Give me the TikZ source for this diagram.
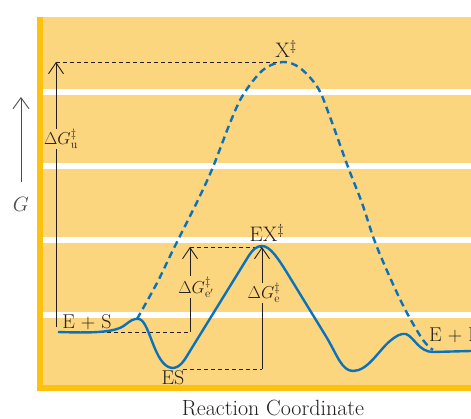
\documentclass[tikz,border=0pt]{standalone}
\usetikzlibrary{arrows.meta}
\definecolor{panel}{HTML}{FCD67F}
\definecolor{bar}{HTML}{FEC20E}
\definecolor{curve}{HTML}{0A72BA}
\definecolor{ink}{HTML}{231F20}
\definecolor{axisgray}{HTML}{4D4D4D}
\begin{document}
\begin{tikzpicture}[x=1pt,y=-1pt,
  barrow/.style={ink,line width=0.9pt,-{Straight Barb[length=11pt,width=15pt,line width=0.9pt]}},
  guide/.style={ink,line width=0.8pt,dash pattern=on 4pt off 3pt},
  lbl/.style={text=ink,font=\fontsize{20}{22}\selectfont,inner sep=1pt},
  dlbl/.style={text=ink,font=\fontsize{17}{19}\selectfont,fill=panel,inner sep=1pt},
  curvesolid/.style={curve,line width=2.4pt},
  curvedash/.style={curve,line width=2.4pt,dash pattern=on 7pt off 4.5pt}]
\useasboundingbox (0,0) rectangle (471,419);
% panel
\fill[panel] (37,17) rectangle (471,391);
\foreach \y in {92,166,240,315}
  \fill[white] (42,\y-2.6) rectangle (471,\y+2.6);
\fill[bar] (37,17) rectangle (42.5,391);
\fill[bar] (37,385) rectangle (471,391);
% guide lines
\coordinate (xtop) at (283,62);
\coordinate (ugL) at (56,62);
\coordinate (ugB) at (56,327);
\coordinate (esL) at (93,332);
\coordinate (egp) at (190,332);
\coordinate (egpT) at (190,247);
\coordinate (ext) at (262,247);
\coordinate (esD) at (183,369);
\coordinate (exB) at (262,369);
\draw[guide] (ugL) -- (xtop);
\draw[guide] (esL) -- (egp);
\draw[guide] (egpT) -- (ext);
\draw[guide] (esD) -- (exB);
% arrows
\draw[barrow] (ugB) -- (ugL);
\draw[barrow] (egp) -- (egpT);
\draw[barrow] (exB) -- (ext);
\coordinate (gB) at (21,182);
\coordinate (gT) at (21,97);
\draw[axisgray,line width=0.9pt,-{Straight Barb[length=11pt,width=16pt,line width=0.9pt]}] (gB) -- (gT);
\node[text=axisgray,font=\fontsize{21}{23}\selectfont] (glab) at (21,204) {$G$};
% delta labels
\node[dlbl] (du) at (61,139) {$\Delta G^{\ddagger}_{\mathrm{u}}$};
\node[dlbl] (dep) at (196,287) {$\Delta G^{\ddagger}_{\mathrm{e'}}$};
\node[dlbl] (de) at (264,293) {$\Delta G^{\ddagger}_{\mathrm{e}}$};
% curves
\draw[curvedash] plot[smooth,tension=0.55] coordinates {(137,319) (157,283) (173,250) (198,200) (213,167) (230,123) (243,95) (263,70) (283,62) (300,68) (318,88) (330,117) (348,167) (362,203) (375,242) (392,282) (407,313) (423,340) (433,350)};
\draw[curvesolid] (58,332) .. controls (90,333) and (115,333) .. (125,325)
  .. controls (130,321) and (134,318) .. (139,319)
  .. controls (150,321) and (154,366) .. (172,368)
  .. controls (180,368) and (184,361) .. (190,351)
  -- (248,257) .. controls (253,249) and (257,246) .. (262,246)
  .. controls (270,246) and (278,258) .. (289,276)
  -- (327,338) .. controls (337,355) and (342,371) .. (353,371)
  .. controls (368,371) and (379,350) .. (390,341)
  .. controls (396,336) and (401,333) .. (406,334)
  .. controls (414,337) and (419,352) .. (433,352) -- (471,351);
% labels
\node[lbl,font=\fontsize{21}{23}\selectfont] (xl) at (286,49) {X$^{\ddagger}$};
\node[lbl,font=\fontsize{21}{23}\selectfont] (exl) at (267,233) {EX$^{\ddagger}$};
\node[lbl] (esl) at (87,322) {E + S};
\node[lbl] (esb) at (173,378) {ES};
\node[lbl,anchor=west] (epl) at (428,335) {E + P};
\node[text=ink,font=\fontsize{22}{24}\selectfont,inner sep=0.5pt] (rc) at (273,408) {Reaction Coordinate};
\end{tikzpicture}
\end{document}
